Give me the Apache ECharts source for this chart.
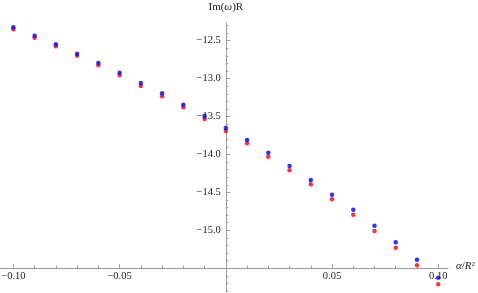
<!DOCTYPE html>
<html><head><meta charset="utf-8">
<script src="https://cdn.jsdelivr.net/npm/echarts@6/dist/echarts.min.js"></script>
<style>html,body{margin:0;padding:0;background:#fff}#c{width:478px;height:293px}</style>
</head><body><div id="c"></div>
<script>
// ---- data ----
const xValues = [-0.10, -0.09, -0.08, -0.07, -0.06, -0.05, -0.04, -0.03, -0.02, -0.01, 0.00,
                 0.01, 0.02, 0.03, 0.04, 0.05, 0.06, 0.07, 0.08, 0.09, 0.10];
const blueValues = [-12.323, -12.434, -12.547, -12.671, -12.794, -12.922, -13.058, -13.194, -13.344, -13.493, -13.651,
                    -13.809, -13.977, -14.152, -14.337, -14.531, -14.728, -14.939, -15.158, -15.388, -15.625];
const redValues = [-12.350, -12.460, -12.574, -12.700, -12.824, -12.956, -13.097, -13.233, -13.378, -13.532, -13.691,
                   -13.853, -14.030, -14.209, -14.393, -14.591, -14.794, -15.009, -15.229, -15.462, -15.712];

const xLabelValues = [-0.10, -0.05, 0.05, 0.10];
const yLabelValues = [-15.0, -14.5, -14.0, -13.5, -13.0, -12.5];
const xMajorTicks = [-0.10, -0.05, 0.00, 0.05, 0.10];
const xMinorTicks = [-0.09, -0.08, -0.07, -0.06, -0.04, -0.03, -0.02, -0.01,
                     0.01, 0.02, 0.03, 0.04, 0.06, 0.07, 0.08, 0.09];
const yMajorTicks = [-15.5, -15.0, -14.5, -14.0, -13.5, -13.0, -12.5];
const yMinorTicks = [-15.8, -15.7, -15.6, -15.4, -15.3, -15.2, -15.1, -14.9, -14.8, -14.7, -14.6,
                     -14.4, -14.3, -14.2, -14.1, -13.9, -13.8, -13.7, -13.6, -13.4, -13.3, -13.2, -13.1,
                     -12.9, -12.8, -12.7, -12.6, -12.4, -12.3];

const X_MIN = -0.1063, X_MAX = 0.1046;
const Y_MIN = -15.81, Y_MAX = -12.267;
const Y_CROSS = -15.5; // where the horizontal axis sits

// ---- layout ----
const G = {left: 0, top: 23, width: 448, height: 268.7};
const yAxisOffset = -(G.width * (0 - X_MIN) / (X_MAX - X_MIN));
const xAxisOffset = -(G.height * (Y_CROSS - Y_MIN) / (Y_MAX - Y_MIN));

const AX = '#9a9a9a';
const FONT = 'Liberation Serif';
const TXT = '#222';
const fmtMinus = (s) => s.replace('-', '\u2212');

const pair = (ys) => xValues.map((x, i) => [x, ys[i]]);

const chart = echarts.init(document.getElementById('c'), null, {renderer: 'canvas'});
chart.setOption({
  animation: false,
  backgroundColor: '#fff',
  grid: Object.assign({containLabel: false, outerBoundsMode: 'none'}, G),
  xAxis: [{
    type: 'value', min: X_MIN, max: X_MAX, position: 'bottom', offset: xAxisOffset,
    axisLine: {show: true, onZero: false, lineStyle: {color: AX, width: 1}},
    axisTick: {show: true, inside: true, length: 4, customValues: xMajorTicks, lineStyle: {color: AX}},
    axisLabel: {show: true, customValues: xLabelValues, margin: 3, color: TXT, fontFamily: FONT, fontSize: 10.5,
                formatter: (v) => fmtMinus(v.toFixed(2))},
    splitLine: {show: false},
    name: '{i|α}/{i|R}{sup|2}', nameLocation: 'end', nameGap: 8,
    nameTextStyle: {color: TXT, fontFamily: FONT, fontSize: 11, padding: [0, 0, 4, 0],
      rich: {i: {fontStyle: 'italic', fontFamily: FONT, fontSize: 11, color: TXT},
             sup: {fontFamily: FONT, fontSize: 7, color: TXT, verticalAlign: 'top'}}}
  }, {
    type: 'value', min: X_MIN, max: X_MAX, position: 'bottom', offset: xAxisOffset,
    axisLine: {show: false, onZero: false},
    axisTick: {show: true, inside: true, length: 2.5, customValues: xMinorTicks, lineStyle: {color: AX}},
    axisLabel: {show: false}, splitLine: {show: false}
  }],
  yAxis: [{
    type: 'value', min: Y_MIN, max: Y_MAX, position: 'left', offset: yAxisOffset,
    axisLine: {show: true, onZero: false, lineStyle: {color: AX, width: 1}},
    axisTick: {show: true, inside: true, length: 4.5, customValues: yMajorTicks, lineStyle: {color: AX}},
    axisLabel: {show: true, customValues: yLabelValues, margin: 5, color: TXT, fontFamily: FONT, fontSize: 10.5,
                formatter: (v) => fmtMinus(v.toFixed(1))},
    splitLine: {show: false},
    name: 'Im({i|ω})R', nameLocation: 'end', nameGap: 10,
    nameTextStyle: {color: TXT, fontFamily: FONT, fontSize: 11,
      rich: {i: {fontStyle: 'italic', fontFamily: FONT, fontSize: 11, color: TXT}}}
  }, {
    type: 'value', min: Y_MIN, max: Y_MAX, position: 'left', offset: yAxisOffset,
    axisLine: {show: false, onZero: false},
    axisTick: {show: true, inside: true, length: 2.5, customValues: yMinorTicks, lineStyle: {color: AX}},
    axisLabel: {show: false}, splitLine: {show: false}
  }],
  series: [{
    type: 'scatter', xAxisIndex: 0, yAxisIndex: 0, data: pair(redValues),
    symbol: 'circle', symbolSize: 4.5, itemStyle: {color: '#ff0000'}, emphasis: {disabled: true}, z: 3
  }, {
    type: 'scatter', xAxisIndex: 0, yAxisIndex: 0, data: pair(blueValues),
    symbol: 'circle', symbolSize: 4.5, itemStyle: {color: '#0000ff'}, emphasis: {disabled: true}, z: 4
  }]
});
</script></body></html>
